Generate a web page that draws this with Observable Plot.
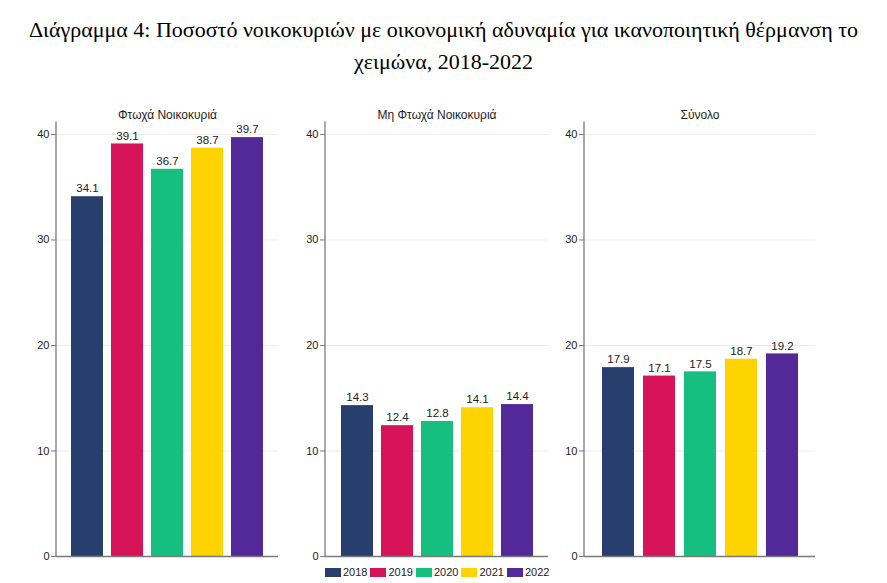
<!DOCTYPE html>
<html><head><meta charset="utf-8">
<script src="https://cdn.jsdelivr.net/npm/d3@7"></script>
<script src="https://cdn.jsdelivr.net/npm/@observablehq/plot@0.6"></script>
<style>
body{margin:0;background:#fff;}
#root{position:relative;width:887px;height:583px;overflow:hidden;font-family:"Liberation Sans",Arial,sans-serif;background:#fff;}
#title{position:absolute;left:0;top:14px;width:887px;text-align:center;font-family:"Liberation Serif","Times New Roman",serif;font-size:22px;line-height:32px;color:#000;}
.panel{position:absolute;top:88px;}
#legend{position:absolute;top:566px;left:325px;display:flex;align-items:center;font-size:11px;color:#222;white-space:nowrap;}
#legend .it{display:flex;align-items:center;margin-right:3px;}
#legend .sw{width:16px;height:9px;margin-right:2px;}
</style>
</head><body>
<div id="root">
  <div id="title">Διάγραμμα 4: Ποσοστό νοικοκυριών με οικονομική αδυναμία για ικανοποιητική θέρμανση το<br>χειμώνα, 2018-2022</div>
  <div id="legend"></div>
</div>
<script>
const years = ["2018","2019","2020","2021","2022"];
const panelTitles = ["Φτωχά Νοικοκυριά","Μη Φτωχά Νοικοκυριά","Σύνολο"];
const poorValues = [34.1,39.1,36.7,38.7,39.7];
const nonPoorValues = [14.3,12.4,12.8,14.1,14.4];
const totalValues = [17.9,17.1,17.5,18.7,19.2];
const yTicks = [0,10,20,30,40];
const colors = ["#283f6d","#d81459","#16be7f","#fdd300","#53299a"];

const series = [poorValues, nonPoorValues, totalValues];
const layout = [
  {axisX:56, w:222, pi:0.2},
  {axisX:325, w:223, pi:0.2},
  {axisX:584, w:231, pi:0.22}
];
const mL = 30, mR = 4, mT = 35.4, mB = 3, H = 471;
const root = document.getElementById("root");

function leftAxisLine(index, scales, values, dims) {
  const l = document.createElementNS("http://www.w3.org/2000/svg","line");
  l.setAttribute("x1", dims.marginLeft);
  l.setAttribute("x2", dims.marginLeft);
  l.setAttribute("y1", dims.marginTop - 2);
  l.setAttribute("y2", dims.height - dims.marginBottom);
  l.setAttribute("stroke", "#7a7a7a");
  l.setAttribute("stroke-width", "1.3");
  return l;
}

series.forEach((vals, i) => {
  const data = years.map((y, j) => ({year: y, value: vals[j]}));
  const L = layout[i];
  const chart = Plot.plot({
    width: mL + L.w + mR,
    height: H,
    marginLeft: mL, marginRight: mR, marginTop: mT, marginBottom: mB,
    style: {fontFamily: '"Liberation Sans", Arial, sans-serif', background: "transparent", overflow: "visible"},
    x: {domain: years, paddingInner: L.pi, paddingOuter: 0.375, axis: null},
    y: {domain: [0, 41], axis: null, label: null},
    color: {domain: years, range: colors},
    marks: [
      Plot.gridY(yTicks.slice(1), {stroke: "#ececec", strokeOpacity: 1}),
      Plot.barY(data, {x: "year", y: "value", fill: "year"}),
      Plot.text(data, {x: "year", y: "value", text: d => d.value.toFixed(1), dy: -8, fontSize: 11.5, fill: "#222"}),
      Plot.axisY(yTicks, {tickSize: 5, tickPadding: 2, fontSize: 11, stroke: "#7a7a7a", fill: "#222", tickFormat: d => d, label: null}),
      Plot.ruleY([0], {stroke: "#7a7a7a", strokeWidth: 1.3}),
      leftAxisLine,
      Plot.text([panelTitles[i]], {frameAnchor: "top", lineAnchor: "bottom", dy: -5, fontSize: 12, fill: "#222"})
    ]
  });
  chart.classList.add("panel");
  chart.style.left = (L.axisX - mL) + "px";
  root.appendChild(chart);
});

const legend = document.getElementById("legend");
years.forEach((y, j) => {
  const it = document.createElement("div");
  it.className = "it";
  const sw = document.createElement("div");
  sw.className = "sw";
  sw.style.background = colors[j];
  const t = document.createElement("span");
  t.textContent = y;
  it.appendChild(sw); it.appendChild(t);
  legend.appendChild(it);
});
</script>
</body></html>
